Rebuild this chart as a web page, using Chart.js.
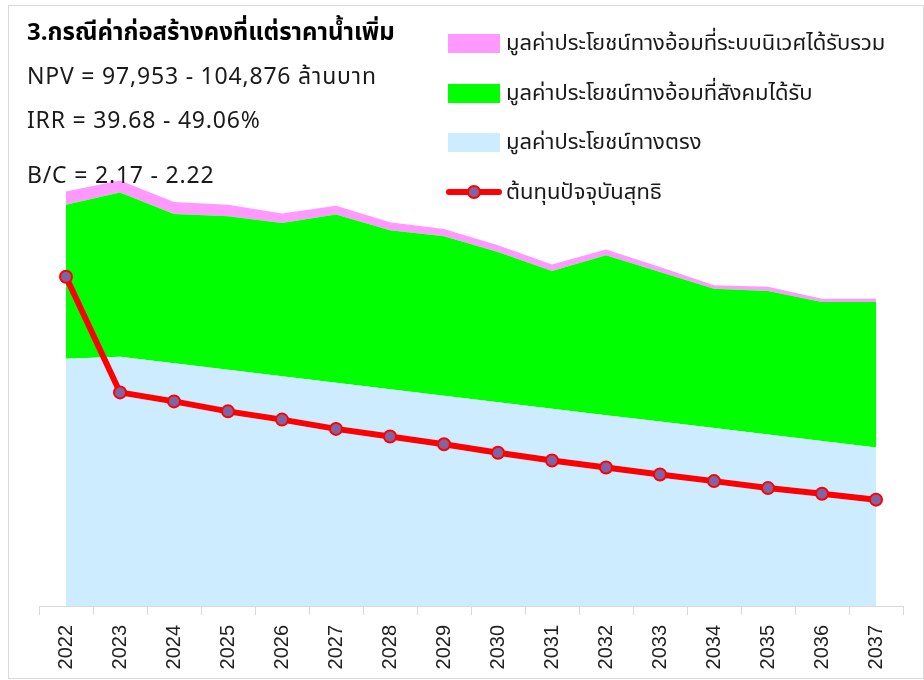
<!DOCTYPE html>
<html>
<head>
<meta charset="utf-8">
<script src="https://cdn.jsdelivr.net/npm/chart.js@4/dist/chart.umd.min.js"></script>
<style>
  body { margin: 0; background: #fff; font-family: "Noto Sans Thai", "Loma", "Tahoma", "Noto Sans", sans-serif; }
  #frame { position: absolute; left: 8px; top: 5px; width: 914px; height: 672px; border: 1px solid #d9d9d9; }
  #wrap { position: absolute; left: 0; top: 0; width: 924px; height: 680px; }
  .note { position: absolute; left: 27px; color: #1a1a1a; white-space: nowrap; font-size: 23px; line-height: 1; letter-spacing: 0.8px; }
  #title { top: 21px; font-size: 24px; font-weight: bold; color: #000; letter-spacing: 0; }
  .lg { position: absolute; left: 446px; height: 30px; display: flex; align-items: center; white-space: nowrap; font-size: 22px; color: #1a1a1a; }
  .lg .box { width: 52px; height: 19px; margin-left: 2px; margin-right: 6px; }
  .lg .ln { position: relative; width: 56px; height: 30px; margin-right: 4px; }
  .lg .ln i { position: absolute; left: 0; top: 12px; width: 56px; height: 6px; background: #ff0000; border-radius: 3px; }
  .lg .ln b { position: absolute; left: 21px; top: 8px; width: 10px; height: 10px; border: 2px solid #ff0000; border-radius: 50%; background: #8064a2; }
</style>
</head>
<body>
<div id="wrap"><canvas id="chart" width="924" height="680"></canvas></div>
<div id="frame"></div>
<div class="note" id="title">3.กรณีค่าก่อสร้างคงที่แต่ราคาน้ำเพิ่ม</div>
<div class="note" style="top:66px">NPV = 97,953 - 104,876 ล้านบาท</div>
<div class="note" style="top:110px">IRR = 39.68 - 49.06%</div>
<div class="note" style="top:165px">B/C = 2.17 - 2.22</div>
<div id="legend"></div>
<script>
// years on the x axis
var years = ['2022', '2023', '2024', '2025', '2026', '2027', '2028', '2029',
             '2030', '2031', '2032', '2033', '2034', '2035', '2036', '2037'];

// direct benefit (bottom area)
var directBenefit = [248, 250, 243.5, 237, 230.5, 224, 217.5, 211, 204.5, 198, 191.5, 185, 178.5, 172, 165.5, 159];
// indirect benefit to society (middle area)
var socialBenefit = [154.7, 165, 149.8, 154, 153.8, 168.7, 159.5, 160, 150.8, 138, 160.5, 150.2, 139.8, 144, 139.5, 146];
// indirect benefit to ecosystem (top area)
var ecoBenefit = [13.3, 12, 12, 11.7, 9.4, 9, 8, 7.3, 6.7, 6.7, 5.7, 5, 3.4, 4.3, 3.3, 3.3];
// net present cost (line)
var netCost = [330.3, 214.3, 205.3, 195.3, 187, 177.7, 170, 162.3, 153.7, 146, 139, 132, 125.3, 118.3, 112.7, 106.7];

var names = ['มูลค่าประโยชน์ทางอ้อมที่ระบบนิเวศได้รับรวม', 'มูลค่าประโยชน์ทางอ้อมที่สังคมได้รับ',
             'มูลค่าประโยชน์ทางตรง', 'ต้นทุนปัจจุบันสุทธิ'];

var areaStyle = { borderWidth: 0, pointRadius: 0, tension: 0, stack: 'benefit' };

new Chart('chart', {
    type: 'line',
    data: {
        labels: years,
        datasets: [
            { label: names[3], data: netCost, stack: 'cost', fill: false,
              borderColor: '#ff0000', borderWidth: 6, tension: 0,
              pointRadius: 6, pointBorderWidth: 2, pointBorderColor: '#ff0000', pointBackgroundColor: '#8064a2' },
            Object.assign({ label: names[2], data: directBenefit, fill: 'origin', backgroundColor: '#cdecff' }, areaStyle),
            Object.assign({ label: names[1], data: socialBenefit, fill: '-1', backgroundColor: '#00ff00' }, areaStyle),
            Object.assign({ label: names[0], data: ecoBenefit, fill: '-1', backgroundColor: '#ff99ff' }, areaStyle)
        ]
    },
    options: {
        responsive: false,
        animation: false,
        layout: { padding: { left: 39, right: 21, top: 6, bottom: 0 } },
        plugins: { legend: { display: false }, tooltip: { enabled: false } },
        scales: {
            x: {
                offset: true,
                grid: { offset: true, drawOnChartArea: false, color: '#d9d9d9', tickLength: 9 },
                border: { color: '#d9d9d9', width: 1 },
                ticks: { minRotation: 90, maxRotation: 90, color: '#222', padding: 10,
                         font: { family: 'Liberation Sans', size: 20 } },
                afterFit: function (s) { s.height = 74; }
            },
            y: { display: false, stacked: true, min: 0, max: 600 }
        }
    }
});

// legend drawn as html, top right
var legendTop = [28, 78, 127, 177];
var legendColors = ['#ff99ff', '#00ff00', '#cdecff'];
var lg = document.getElementById('legend');
names.forEach(function (n, i) {
    var row = document.createElement('div');
    row.className = 'lg';
    row.style.top = legendTop[i] + 'px';
    if (i < 3) {
        row.innerHTML = '<span class="box" style="background:' + legendColors[i] + '"></span>' + n;
    } else {
        row.innerHTML = '<span class="ln"><i></i><b></b></span>' + n;
    }
    lg.appendChild(row);
});
</script>
</body>
</html>
